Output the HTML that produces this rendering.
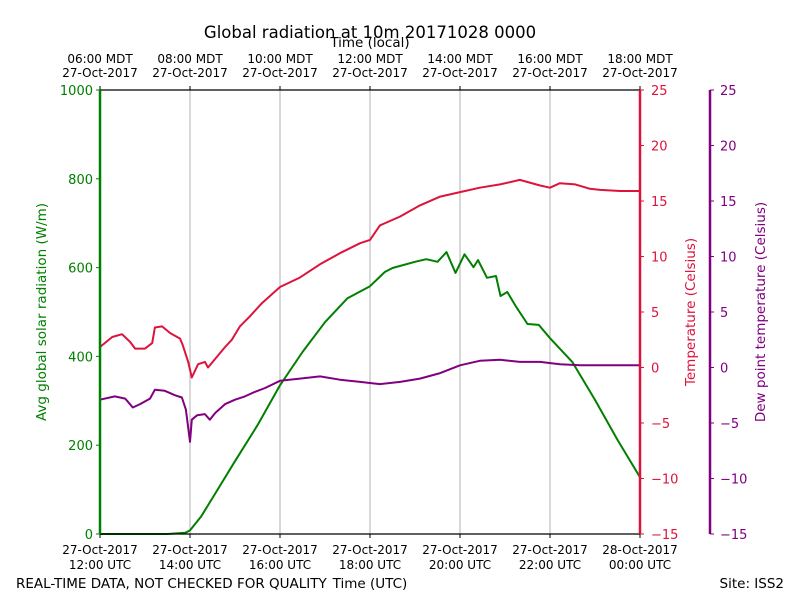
<!DOCTYPE html>
<html><head><meta charset="utf-8"><style>
body{margin:0;background:#fff;}
svg{display:block;font-family:"DejaVu Sans","Liberation Sans",sans-serif;}
</style></head><body>
<svg id="chart" width="800" height="600" viewBox="0 0 800 600">
<rect width="800" height="600" fill="#fff"/>
<g id="grid"></g><g id="series"></g><g id="axes"></g>
<text x="370" y="38" font-size="16.5" text-anchor="middle">Global radiation at 10m 20171028 0000</text>
<text x="370" y="47" font-size="13.5" text-anchor="middle">Time (local)</text>
<text x="370" y="588" font-size="13.5" text-anchor="middle">Time (UTC)</text>
<text x="16" y="588" font-size="13.5">REAL-TIME DATA, NOT CHECKED FOR QUALITY</text>
<text x="784" y="588" font-size="13.5" text-anchor="end">Site: ISS2</text>
<text transform="translate(46,312) rotate(-90)" font-size="13.5" fill="green" text-anchor="middle">Avg global solar radiation (W/m)</text>
<text transform="translate(695,312) rotate(-90)" font-size="13.5" fill="crimson" text-anchor="middle">Temperature (Celsius)</text>
<text transform="translate(765,312) rotate(-90)" font-size="13.5" fill="purple" text-anchor="middle">Dew point temperature (Celsius)</text>
</svg>
<script>
const radT=[0,1,1.5,1.9,2.0,2.25,2.5,3,3.5,4,4.5,5,5.5,6,6.33,6.5,7,7.25,7.5,7.7,7.9,8.1,8.3,8.4,8.6,8.8,8.9,9.05,9.25,9.5,9.75,10,10.5,11,11.5,12];
const radV=[0,0,0,3,8,40,81,164,245,335,410,477,531,558,590,599,613,619,613,635,588,630,601,617,577,581,536,545,511,473,471,441,387,302,212,128];
const tmpT=[0,0.27,0.49,0.67,0.78,1,1.16,1.22,1.38,1.56,1.78,1.84,1.96,2.04,2.18,2.33,2.4,2.78,2.93,3.11,3.33,3.6,4,4.44,4.89,5.33,5.78,6,6.22,6.67,7.11,7.56,8,8.44,8.89,9.33,9.78,10,10.22,10.56,10.89,11.11,11.56,12];
const tmpV=[1.85,2.75,3.0,2.3,1.7,1.7,2.2,3.6,3.7,3.1,2.6,2.0,0.5,-0.9,0.3,0.5,0,1.85,2.5,3.7,4.6,5.8,7.25,8.1,9.3,10.3,11.2,11.5,12.8,13.6,14.6,15.4,15.8,16.2,16.5,16.9,16.4,16.2,16.6,16.5,16.1,16.0,15.9,15.9];
const dewT=[0,0.33,0.56,0.73,0.89,1.11,1.22,1.44,1.67,1.82,1.91,2.0,2.04,2.16,2.33,2.44,2.56,2.78,3.0,3.22,3.44,3.67,4,4.44,4.89,5.33,5.78,6.22,6.67,7.11,7.56,8,8.44,8.89,9.33,9.78,10.22,10.67,11.11,12];
const dewV=[-2.9,-2.6,-2.8,-3.6,-3.3,-2.8,-2.0,-2.1,-2.5,-2.7,-3.8,-6.7,-4.7,-4.3,-4.2,-4.7,-4.1,-3.3,-2.9,-2.6,-2.2,-1.85,-1.2,-1.0,-0.8,-1.1,-1.3,-1.5,-1.3,-1.0,-0.5,0.2,0.6,0.7,0.5,0.5,0.3,0.2,0.2,0.2];
const topLabels=["06:00 MDT","08:00 MDT","10:00 MDT","12:00 MDT","14:00 MDT","16:00 MDT","18:00 MDT"];
const botLabels=[["27-Oct-2017","12:00 UTC"],["27-Oct-2017","14:00 UTC"],["27-Oct-2017","16:00 UTC"],["27-Oct-2017","18:00 UTC"],["27-Oct-2017","20:00 UTC"],["27-Oct-2017","22:00 UTC"],["28-Oct-2017","00:00 UTC"]];
const radTicks=[0,200,400,600,800,1000];
const tempTicks=[-15,-10,-5,0,5,10,15,20,25];

const L=100,R=640,T=90,B=534;
const x=t=>L+(R-L)*t/12;
const yR=v=>B-(B-T)*v/1000;
const yT=v=>B-(B-T)*(v+15)/40;
const NS="http://www.w3.org/2000/svg";
function mk(parent,tag,attrs,text){const e=document.createElementNS(NS,tag);for(const k in attrs)e.setAttribute(k,attrs[k]);if(text!==undefined)e.textContent=text;document.getElementById(parent).appendChild(e);return e;}

for(let i=1;i<6;i++){
  const g=mk('grid','line',{x1:x(i*2),x2:x(i*2),y1:T,y2:B,stroke:'#b0b0b0','stroke-width':1});
  
  
}
function line(ts,vs,yf,color,name){
  const p=mk('series','polyline',{points:ts.map((t,i)=>x(t).toFixed(1)+','+yf(vs[i]).toFixed(1)).join(' '),fill:'none',stroke:color,'stroke-width':2,'stroke-linejoin':'round'});
  
  
}
line(radT,radV,yR,'green','radiation-line');
line(tmpT,tmpV,yT,'crimson','temperature-line');
line(dewT,dewV,yT,'purple','dewpoint-line');

mk('axes','line',{x1:L,x2:R,y1:T,y2:T,stroke:'#000','stroke-width':1.2});
mk('axes','line',{x1:L,x2:R,y1:B,y2:B,stroke:'#000','stroke-width':1.2});
mk('axes','line',{x1:L,x2:L,y1:T,y2:B,stroke:'green','stroke-width':2.5});
mk('axes','line',{x1:R,x2:R,y1:T,y2:B,stroke:'crimson','stroke-width':2.5});
mk('axes','line',{x1:710,x2:710,y1:T,y2:B,stroke:'purple','stroke-width':2.5});
topLabels.forEach((s,i)=>{
  const xx=x(i*2);
  mk('axes','line',{x1:xx,x2:xx,y1:T,y2:T-4,stroke:'#000'});
  const a=mk('axes','text',{x:xx,y:63,'font-size':12,'text-anchor':'middle'},s);
  
  
  const b=mk('axes','text',{x:xx,y:77,'font-size':12,'text-anchor':'middle'},'27-Oct-2017');
  
  
});
botLabels.forEach((s,i)=>{
  const xx=x(i*2);
  mk('axes','line',{x1:xx,x2:xx,y1:B,y2:B+4,stroke:'#000'});
  const a=mk('axes','text',{x:xx,y:554,'font-size':12,'text-anchor':'middle'},s[0]);
  
  
  const b=mk('axes','text',{x:xx,y:569,'font-size':12,'text-anchor':'middle'},s[1]);
  
  
});
radTicks.forEach(v=>{
  const yy=yR(v);
  mk('axes','line',{x1:L,x2:L-4,y1:yy,y2:yy,stroke:'green'});
  const t=mk('axes','text',{x:L-7,y:yy+5,'font-size':13,'text-anchor':'end',fill:'green'},v);
  
  
});
tempTicks.forEach(v=>{
  const yy=yT(v);
  mk('axes','line',{x1:R,x2:R+4,y1:yy,y2:yy,stroke:'crimson'});
  const t=mk('axes','text',{x:R+11,y:yy+5,'font-size':13,fill:'crimson'},String(v).replace('-','\u2212'));
  
  
  mk('axes','line',{x1:710,x2:714,y1:yy,y2:yy,stroke:'purple'});
  const d=mk('axes','text',{x:720,y:yy+5,'font-size':13,fill:'purple'},String(v).replace('-','\u2212'));
  
  
});
</script>
</body></html>
